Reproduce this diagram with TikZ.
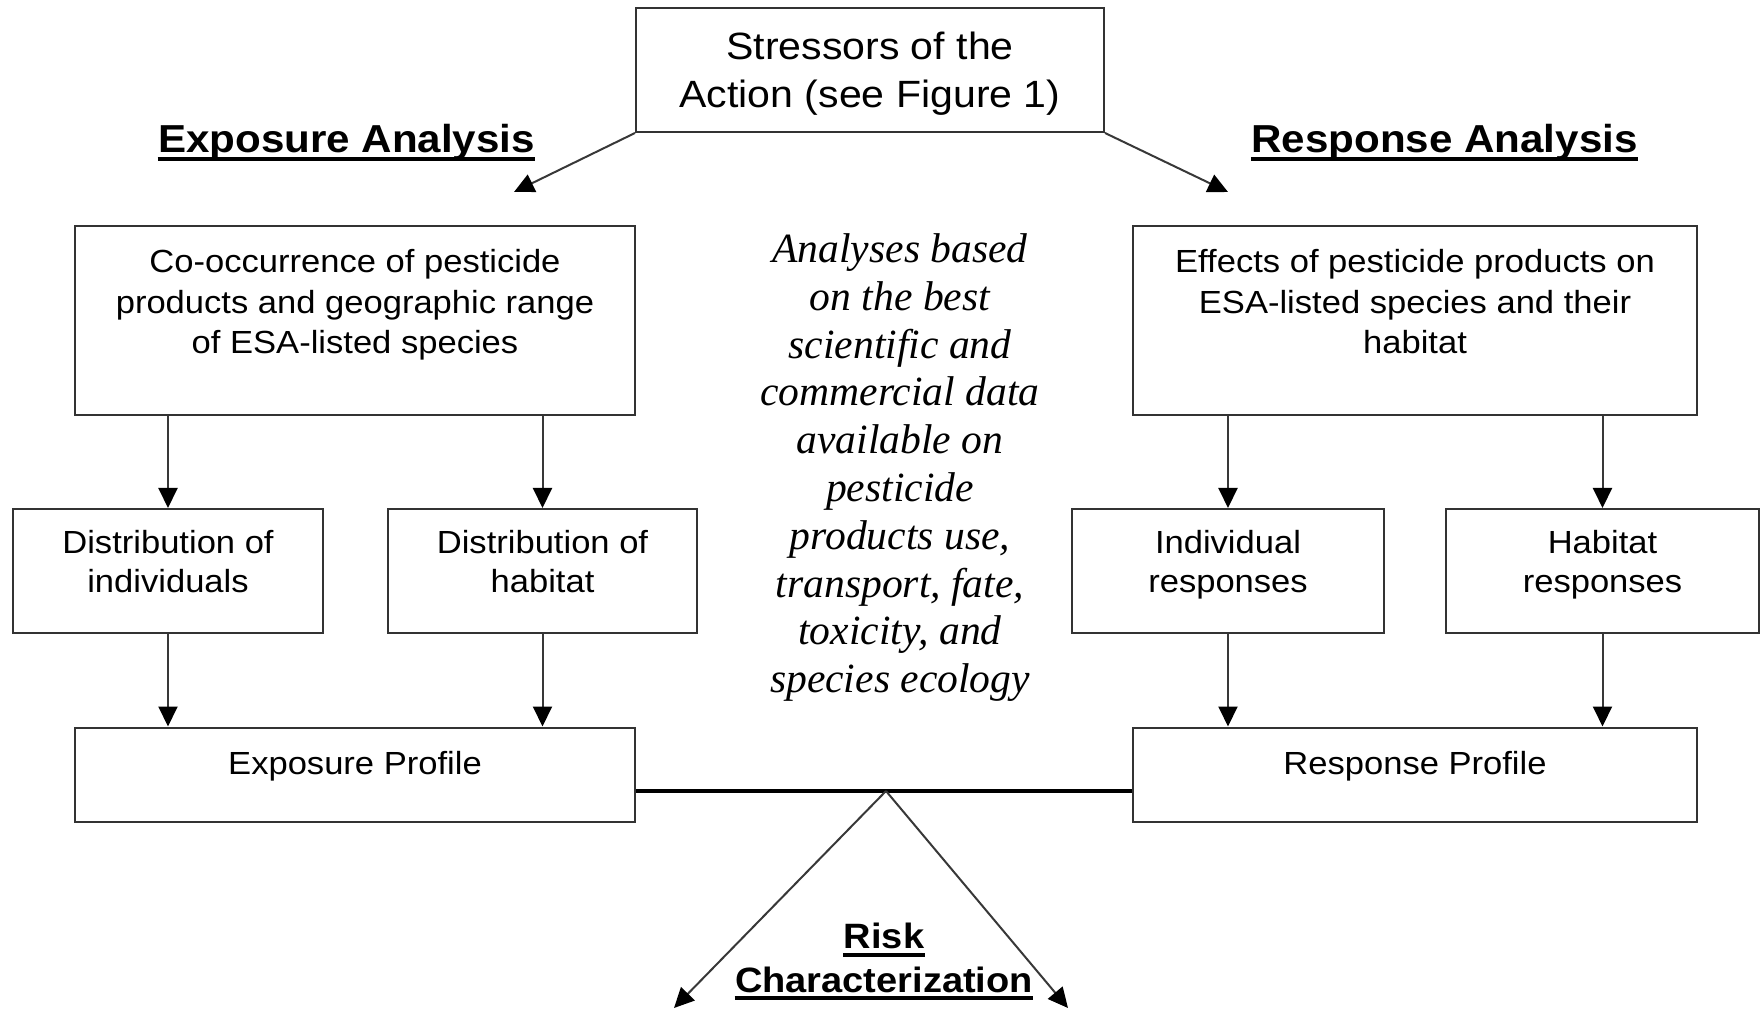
\documentclass[tikz,border=0pt]{standalone}
\usepackage{fontspec}
\setmainfont{Liberation Sans}[FakeStretch=1.08]
\newfontfamily\itserif{Liberation Serif}
\usetikzlibrary{arrows.meta}
\newcommand{\topstrut}[1]{\rule{0pt}{#1}}
\definecolor{linegray}{HTML}{333333}
\definecolor{arrgray}{HTML}{383838}
\begin{document}
\begin{tikzpicture}[x=0.5pt,y=-0.5pt,
  box/.style={draw=linegray,line width=1pt,inner sep=0pt},
  btxt/.style={font=\fontsize{16}{19.5}\selectfont,align=center,inner sep=0pt,anchor=north},
  bigtxt/.style={font=\fontsize{16}{20.4}\selectfont,align=center,inner sep=0pt,anchor=north},
  arr/.style={draw=arrgray,line width=1pt,-{Triangle[width=9.5pt,length=10pt,color=black]}},
  ttl/.style={font=\fontsize{19.5}{23}\selectfont\bfseries,inner sep=0pt,anchor=base},
  rtl/.style={font=\fontsize{17.6}{21}\selectfont\bfseries,inner sep=0pt,anchor=base},
  uline/.style={line width=2.4pt,black},
  rline/.style={line width=2pt,black}
]
\useasboundingbox (0,0) rectangle (1763,1010);

% top box
\node[box,minimum width=234pt,minimum height=62pt] (stress) at (870,70) {};
\node[font=\fontsize{19}{24}\selectfont,align=center,inner sep=0pt,anchor=north] (stressT) at (870,29)
  {\topstrut{15pt}Stressors of the\\Action (see Figure 1)};

% titles
\node[ttl] (expT) at (346.5,153) {Exposure Analysis};
\draw[uline] ([yshift=-3pt]expT.base west) -- ([yshift=-3pt]expT.base east);
\node[ttl] (resT) at (1444.5,153) {Response Analysis};
\draw[uline] ([yshift=-3pt]resT.base west) -- ([yshift=-3pt]resT.base east);

% large boxes
\node[box,minimum width=280pt,minimum height=94.5pt] (coocc) at (355,320.5) {};
\node[bigtxt] (cooccT) at (355,246)
  {\topstrut{13pt}Co-occurrence of pesticide\\products and geographic range\\of ESA-listed species};
\node[box,minimum width=282pt,minimum height=94.5pt] (effects) at (1415,320.5) {};
\node[bigtxt] (effectsT) at (1415,246)
  {\topstrut{13pt}Effects of pesticide products on\\ESA-listed species and their\\habitat};

% middle boxes
\node[box,minimum width=155pt,minimum height=62pt] (dind) at (168,571) {};
\node[btxt] (dindT) at (168,527.5) {\topstrut{13pt}Distribution of\\individuals};
\node[box,minimum width=154.5pt,minimum height=62pt] (dhab) at (542.5,571) {};
\node[btxt] (dhabT) at (542.5,527.5) {\topstrut{13pt}Distribution of\\habitat};
\node[box,minimum width=156pt,minimum height=62pt] (iresp) at (1228,571) {};
\node[btxt] (irespT) at (1228,527.5) {\topstrut{13pt}Individual\\responses};
\node[box,minimum width=156.5pt,minimum height=62pt] (hresp) at (1602.5,571) {};
\node[btxt] (hrespT) at (1602.5,527.5) {\topstrut{13pt}Habitat\\responses};

% profiles
\node[box,minimum width=280pt,minimum height=47pt] (expprof) at (355,774.5) {};
\node[btxt] (expprofT) at (355,748) {\topstrut{13pt}Exposure Profile};
\node[box,minimum width=282pt,minimum height=47pt] (respprof) at (1415,774.5) {};
\node[btxt] (respprofT) at (1415,748) {\topstrut{13pt}Response Profile};

% central italic note
\node[font=\itserif\itshape\fontsize{20.8}{23.9}\selectfont,align=center,inner sep=0pt,anchor=north] (note) at (900,230)
  {\topstrut{16pt}Analyses based\\on the best\\scientific and\\commercial data\\available on\\pesticide\\products use,\\transport, fate,\\toxicity, and\\species ecology};

% risk characterization
\node[rtl] (riskA) at (884,948) {Risk};
\draw[rline] ([yshift=-3.5pt]riskA.base west) -- ([yshift=-3.5pt]riskA.base east);
\node[rtl] (riskB) at (884,992) {Characterization};
\draw[rline] ([yshift=-3pt]riskB.base west) -- ([yshift=-3pt]riskB.base east);

% connectors
\coordinate (expA) at (514,192);
\coordinate (resA) at (1228,192);
\draw[arr] (stress.south west) -- (expA);
\draw[arr] (stress.south east) -- (resA);

\draw[arr] (dind.north |- coocc.south) -- (dind.north);
\draw[arr] (dhab.north |- coocc.south) -- (dhab.north);
\draw[arr] (iresp.north |- effects.south) -- (iresp.north);
\draw[arr] (hresp.north |- effects.south) -- (hresp.north);

\draw[arr] (dind.south) -- (dind.south |- expprof.north);
\draw[arr] (dhab.south) -- (dhab.south |- expprof.north);
\draw[arr] (iresp.south) -- (iresp.south |- respprof.north);
\draw[arr] (hresp.south) -- (hresp.south |- respprof.north);

\coordinate (pivot) at (886,791);
\coordinate (rcL) at (674,1008);
\coordinate (rcR) at (1068,1008);
\draw[line width=1.6pt,black] (expprof.east |- pivot) -- (respprof.west |- pivot);
\draw[arr] (pivot) -- (rcL);
\draw[arr] (pivot) -- (rcR);
\end{tikzpicture}
\end{document}
